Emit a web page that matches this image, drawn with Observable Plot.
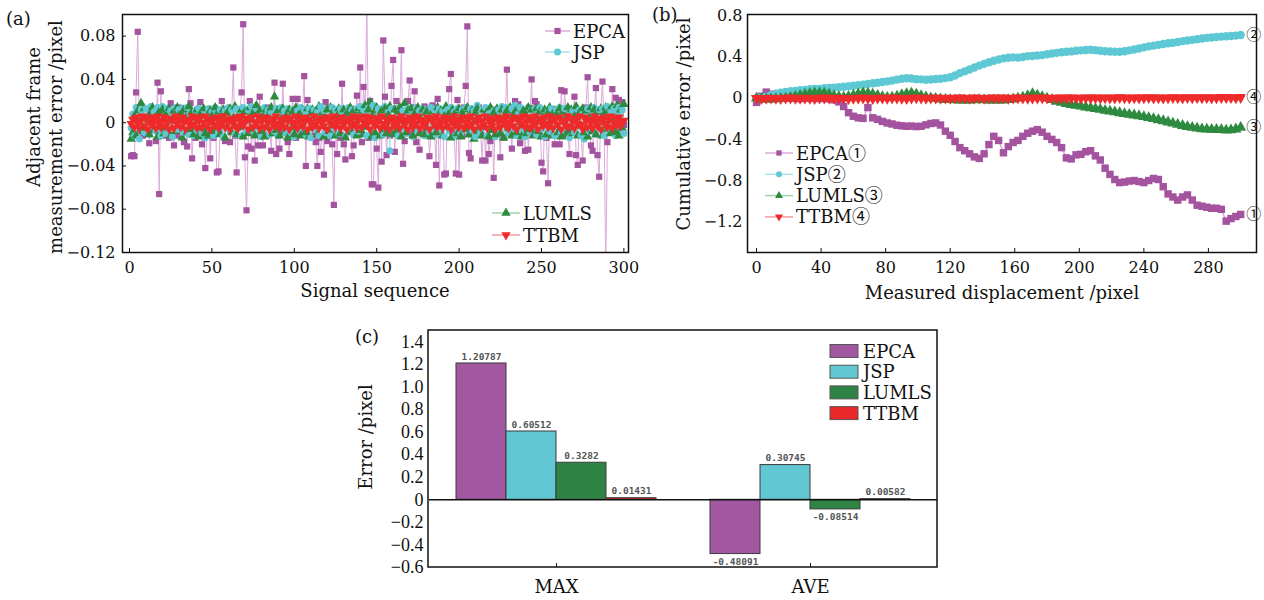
<!DOCTYPE html>
<html>
<head>
<meta charset="utf-8">
<script src="https://cdn.jsdelivr.net/npm/d3@7"></script>
<script src="https://cdn.jsdelivr.net/npm/@observablehq/plot@0.6"></script>
<style>
  body { margin: 0; background: #fff; }
  #root { position: relative; width: 1264px; height: 600px; overflow: hidden; background: #fff; }
  #root svg { position: absolute; }
  .tag { position: absolute; font: 18px "DejaVu Serif", serif; color: #111; line-height: 22px; }
</style>
</head>
<body>
<div id="root">
  <div class="tag" style="left:6px;top:8px">(a)</div>
  <div class="tag" style="left:652px;top:4px">(b)</div>
  <div class="tag" style="left:355px;top:326px">(c)</div>
</div>
<script>
// ---- series definitions ----
const methods = ["EPCA", "JSP", "LUMLS", "TTBM"];
const markColors = ["#a4539f", "#5ec9d5", "#2d8a3f", "#ee2a2b"];
const lineColors = ["#dcaad9", "#a9e3ea", "#9fd2a8", "#f49b9b"];
const barColors = ["#a257a1", "#61c8d3", "#2f8445", "#e8282b"];
const symbols = ["square", "circle", "triangle", "triangle"];
const rotations = [0, 0, 0, 180];
const circled = ["\u2460", "\u2461", "\u2462", "\u2463"];

// (a) adjacent-frame measurement error for frames 1..300, in units of 0.001 pixel
const frameEPCA = [
  -31,-30,-31,28,84,-8,5,-12,10,-4, 8,-19,4,-6,12,-17,37,-66,29,-8,
  10,-12,6,-14,18,-5,-21,8,-12,14, -6,3,-18,10,-22,31,18,-33,6,-14,
  12,-8,19,-20,4,-42,-10,8,-33,2, -14,10,-46,-45,-8,20,-3,-17,12,-5,
  -18,8,51,-12,-46,-5,12,28,91,-32, -81,-22,20,-24,6,-35,10,-21,24,-10,
  -21,5,-12,14,-3,-26,8,37,-29,10, -24,-8,36,-1,12,-18,-29,6,22,-9,
  -14,22,3,-9,12,43,-40,21,-6,10, -12,5,-18,-40,-14,-27,8,-48,19,-17,
  6,-10,-20,-76,4,-29,10,-14,36,-20, -34,5,-8,12,-31,-21,8,25,-10,51,
  -18,33,10,112,-14,20,-57,-57,8,-24, -60,12,-36,76,24,-30,5,-12,34,58,
  -27,20,-8,10,67,-38,-17,6,20,39, -10,14,29,-18,3,-25,10,-6,15,-12,
  8,-31,-11,16,-4,-39,22,-58,6,10, -48,-47,12,31,45,-8,-10,-47,21,-48,
  5,-12,14,34,89,-28,-33,4,9,-11, -6,14,-8,-35,10,-35,3,-29,-17,8,
  -51,12,-6,4,-32,10,-14,6,49,-8, 12,-24,4,20,-10,17,-19,8,-12,-26,
  10,-25,4,40,-6,20,17,-10,6,-37, -45,8,-14,-56,12,-6,9,-20,4,12,
  -20,30,-8,29,6,-12,-29,10,-4,24, -30,-39,8,-12,-35,6,14,42,-8,-21,
  -26,10,32,-30,-50,12,38,-4,-135,-18, 10,-6,31,12,23,-10,21,8,19,-2
];
const frameJSP = [
  -5,8,-12,14,3,-15,12,6,-9,13,2,-11,15,-4,10,-8,14,1,-12,15,
  4,-10,13,-3,11,-13,7,14,-6,12,-2,13,-9,5,14,-11,9,3,-12,11,
  -7,13,2,-10,12,-14,6,13,-5,10,-12,14,0,-9,12,4,-13,11,-3,14,
  -8,12,5,-11,13,-2,10,-12,14,3,-9,12,-6,15,1,-10,13,-4,11,-13,
  7,14,-5,12,-11,9,2,-8,13,-12,6,14,-3,11,-10,13,0,-9,12,-13,
  5,11,-7,14,-2,12,-11,8,13,-14,4,12,-6,10,-12,15,-1,11,-9,13,
  3,-12,14,-5,12,7,-10,13,-3,11,-13,9,14,-6,12,-11,2,13,-8,15,
  -4,12,10,-12,14,3,-9,16,-14,6,13,-2,12,-11,15,-6,10,-26,13,-9,
  12,4,-12,14,-5,11,8,-10,13,-3,12,-13,6,14,-8,11,-1,13,-12,10,
  5,-9,14,-4,12,-11,9,13,-6,11,-13,3,12,-8,14,-2,10,-12,13,6,
  -10,12,-4,14,2,-11,13,-7,11,-13,16,5,-9,12,-3,14,-12,8,13,-6,
  11,-13,4,12,-9,15,-2,12,14,-10,6,13,-5,16,-12,9,14,-7,11,-13,
  3,14,-9,12,-2,13,-11,8,14,-6,12,-13,5,11,-8,13,0,-12,12,-4,
  14,-10,7,13,-5,12,-14,3,11,-9,14,-2,12,-12,10,-15,6,13,-8,12,
  -3,14,-11,9,12,-6,13,-12,4,15,-9,11,-2,13,-12,7,14,-5,12,-10
];
const frameLUMLS = [
  -15,-9,6,-12,11,4,18,-8,13,-5,2,-11,9,14,-7,3,-13,10,-4,12,
  -10,7,-3,13,-12,5,11,-8,14,-2,9,-14,12,4,-9,15,-6,10,-11,3,
  12,-13,8,-5,13,-10,2,-12,11,6,-8,14,-3,10,-11,5,12,-14,9,-2,
  13,-9,4,15,-11,7,-4,12,-13,10,2,-10,14,-6,9,-12,16,-3,11,-8,
  5,-13,12,-1,9,14,-10,24,-7,11,-12,3,13,-9,6,-14,12,-4,10,-11,
  14,-6,8,-12,11,2,-9,13,-13,7,12,-5,10,-11,15,-3,9,-13,4,12,
  -8,14,-2,11,-12,6,13,-10,3,12,-14,9,-5,14,-9,11,1,-12,13,-7,
  10,-11,16,-4,12,19,-13,8,-9,14,4,-12,11,-6,13,-10,7,15,-3,-11,
  12,-8,10,14,-13,5,18,-9,11,-2,13,-12,8,-6,14,-10,3,12,-11,9,
  -5,13,-13,10,2,-9,14,-7,11,-12,6,15,-4,9,-14,12,-1,10,-10,13,
  -13,8,12,-6,14,-11,4,11,-15,9,13,-8,2,-12,12,-4,10,-13,14,-7,
  9,-11,13,3,-10,12,-14,7,11,-5,14,-12,6,10,-9,13,-2,-13,11,8,
  -10,14,-6,12,-12,5,13,-8,10,-13,3,12,-11,9,14,-4,-12,11,7,-9,
  13,-13,10,2,-11,14,-7,12,-10,6,15,-12,9,-3,13,-9,11,-13,4,14,
  -8,12,-11,10,-2,13,-12,8,14,-6,11,-10,15,3,-9,16,-12,12,-5,17
];
const frameTTBM = [
  -1,3,-4,5,0,-5,2,6,-3,4,-6,1,5,-2,3,-5,6,0,-4,2,
  5,-3,1,-6,4,2,-5,6,-1,3,-4,5,0,-6,3,1,-3,6,-2,4,
  -5,2,5,-4,0,6,-3,3,-6,1,4,-2,5,-5,2,-1,6,-4,3,0,
  -6,4,1,-3,5,-5,2,6,-2,0,4,-6,3,5,-4,1,-1,6,-5,2,
  3,-4,5,0,-6,4,2,-3,6,-1,-5,3,1,-4,5,2,-6,4,0,-2,
  6,-5,2,4,-3,1,5,-6,3,0,-4,6,-2,2,-5,4,1,-3,5,-6,
  2,4,-1,6,-4,0,3,-5,5,-2,1,-6,4,2,-3,6,-1,-5,3,5,
  -4,1,6,-2,3,-6,5,0,-3,4,2,-5,6,-1,-4,3,1,-6,5,2,
  -3,4,0,-5,6,2,-2,3,-6,5,1,-4,4,-1,6,-5,2,3,-3,0,
  5,-6,4,1,-2,6,-4,3,0,-5,5,2,-3,4,-6,1,6,-2,3,-4,
  2,5,-5,0,4,-3,6,-1,-6,3,1,5,-4,2,-2,6,-5,4,0,-3,
  3,-6,5,1,-4,4,2,-2,6,-5,0,3,-3,5,-6,2,4,-1,6,-4,
  1,5,-5,3,-2,6,0,-6,4,2,-3,5,-1,-4,6,1,-5,3,4,-2,
  5,-6,2,0,-3,6,-4,4,1,-5,3,-1,6,-2,-6,5,2,-4,3,0,
  -5,6,1,-3,4,-6,2,5,-1,-4,3,6,-5,0,4,-2,5,-3,1,2
];

// (b) cumulative error, sampled every 3 pixels of displacement (0..300), in units of 0.001 pixel
const cumStep = 3;
const cumEPCA = [
  -40,20,60,40,25,15,8,2,0,-3, 0,2,0,-2,0,-5,-15,-35,-80,-140,
  -175,-190,-195,-90,-190,-205,-225,-240,-250,-262, -268,-272,-270,-275,-272,-258,-245,-240,-260,-320,
  -360,-420,-480,-510,-540,-570,-585,-540,-450,-370, -410,-530,-470,-430,-410,-370,-340,-320,-305,-330,
  -370,-400,-430,-480,-580,-590,-550,-545,-520,-510, -560,-600,-680,-740,-790,-820,-815,-805,-800,-810,
  -820,-800,-780,-790,-860,-930,-960,-990,-960,-940, -990,-1040,-1050,-1060,-1070,-1070,-1080,-1195,-1170,-1150,
  -1130
];
const cumJSP = [
  0,5,15,30,45,55,62,68,72,78, 82,88,90,92,98,100,104,108,112,118,
  122,128,132,140,146,152,158,165,172,182, 190,195,192,186,184,180,183,188,190,196,
  205,222,245,262,280,300,318,335,350,365, 378,388,395,398,396,402,410,412,416,420,
  428,436,442,448,452,456,462,466,470,472, 468,462,458,455,452,452,458,466,475,485,
  495,505,512,520,528,535,540,548,556,562, 568,575,582,588,592,596,600,603,606,610,
  615
];
const cumLUMLS = [
  0,-8,-10,-8,-6,-3,0,8,18,28, 38,45,50,52,48,38,25,15,10,18,
  30,42,50,48,40,28,15,8,10,20, 35,45,48,40,25,12,3,-3,-8,-12,
  -15,-17,-18,-20,-18,-16,-15,-17,-19,-20, -20,-18,-15,-8,0,10,25,45,30,15,
  0,-15,-30,-42,-52,-62,-70,-78,-86,-95, -102,-110,-118,-126,-134,-142,-150,-157,-164,-171,
  -180,-190,-200,-210,-220,-232,-243,-255,-266,-276, -285,-292,-298,-302,-304,-305,-307,-310,-308,-300,
  -285
];
const cumTTBM = [
  0,-2,1,3,0,-1,2,4,1,0, 3,1,-1,2,4,2,0,3,1,-2,
  0,2,4,1,-1,3,2,0,4,2, 1,-1,3,5,2,0,2,4,1,3,
  0,2,5,3,1,4,2,0,3,5, 2,4,1,3,6,2,0,4,3,5,
  3,1,5,2,4,6,3,2,5,4, 6,3,5,2,4,7,5,3,6,4,
  5,7,4,6,3,5,8,6,4,7, 5,8,6,7,4,6,9,7,8,6,
  9
];

// (c) error statistics
const statGroups = ["MAX", "AVE"];
const statMAX = [1.20787, 0.60512, 0.3282, 0.01431];
const statAVE = [-0.48091, 0.30745, -0.08514, 0.00582];

// tick values
const ticksAX = [0, 50, 100, 150, 200, 250, 300];
const ticksAY = [-0.12, -0.08, -0.04, 0, 0.04, 0.08];
const ticksBX = [0, 40, 80, 120, 160, 200, 240, 280];
const ticksBY = [-1.2, -0.8, -0.4, 0, 0.4, 0.8];
const ticksCY = [-0.6, -0.4, -0.2, 0, 0.2, 0.4, 0.6, 0.8, 1.0, 1.2, 1.4];

// ---- helpers ----
const serif = "DejaVu Serif";
const serifCJK = "'DejaVu Serif', 'Noto Sans CJK SC', serif";
const fmtTick = digits => d => d === 0 ? "0" : (d < 0 ? "\u2212" : "") + Math.abs(d).toFixed(digits);
const symbolTypes = {square: d3.symbolSquare, circle: d3.symbolCircle, triangle: d3.symbolTriangle};
const root = document.getElementById("root");

function place(svg, left, top) {
  svg.style.left = left + "px";
  svg.style.top = top + "px";
  root.appendChild(svg);
  return d3.select(svg);
}
function addTitle(sel, x, y, str, vertical) {
  sel.append("text")
    .attr("transform", `translate(${x},${y})` + (vertical ? " rotate(-90)" : ""))
    .attr("text-anchor", "middle").attr("dominant-baseline", "central")
    .attr("font-family", serif).attr("font-size", 18).attr("fill", "#111")
    .text(str);
}
function addLegendLine(sel, k, xa, xb, y, label, r) {
  sel.append("line").attr("x1", xa).attr("x2", xb).attr("y1", y).attr("y2", y)
    .attr("stroke", lineColors[k]).attr("stroke-width", 1.5);
  sel.append("path")
    .attr("d", d3.symbol(symbolTypes[symbols[k]], r * r * Math.PI)())
    .attr("transform", `translate(${(xa + xb) / 2},${y}) rotate(${rotations[k]})`)
    .attr("fill", markColors[k]);
  sel.append("text").attr("x", xb + 3).attr("y", y)
    .attr("text-anchor", "start").attr("dominant-baseline", "central")
    .attr("font-family", serifCJK).attr("font-size", 18).attr("fill", "#111")
    .text(label);
}
const plotStyle = {fontFamily: serif, fontSize: "16px", color: "#111", background: "transparent", overflow: "visible"};

// ---- (a) adjacent-frame measurement error ----
const frameSeries = [frameEPCA, frameJSP, frameLUMLS, frameTTBM];
const frameRows = methods.map((m, k) => frameSeries[k].map((v, i) => ({method: m, frame: i + 1, err: v / 1000})));
// JSP circles and LUMLS triangles are drawn frame by frame so the two sets interleave
const midRows = d3.sort([...frameRows[1], ...frameRows[2]], d => d.frame);
const svgA = Plot.plot({
  width: 640, height: 300,
  marginLeft: 122, marginRight: 12, marginTop: 14, marginBottom: 48,
  style: plotStyle,
  x: {domain: [-4.25, 302.8]},
  y: {domain: [-0.12, 0.1]},
  color: {domain: methods, range: markColors},
  symbol: {domain: methods, range: symbols},
  marks: [
    Plot.line(frameRows[0], {x: "frame", y: "err", stroke: lineColors[0], strokeWidth: 1, clip: true}),
    Plot.dot(frameRows[0], {x: "frame", y: "err", symbol: "method", r: 3.5, fill: "method", clip: true}),
    Plot.line(frameRows[1], {x: "frame", y: "err", stroke: lineColors[1], strokeWidth: 1, clip: true}),
    Plot.line(frameRows[2], {x: "frame", y: "err", stroke: lineColors[2], strokeWidth: 1, clip: true}),
    Plot.dot(midRows, {x: "frame", y: "err", symbol: "method", r: 3.5, fill: "method", clip: true}),
    Plot.line(frameRows[3], {x: "frame", y: "err", stroke: lineColors[3], strokeWidth: 1, clip: true}),
    Plot.dot(frameRows[3], {x: "frame", y: "err", symbol: "method", r: 3.5, fill: "method", rotate: 180, clip: true}),
    Plot.axisX({ticks: ticksAX, tickSize: -4, tickPadding: 13, label: null, tickFormat: d => String(d), fontSize: 16}),
    Plot.axisY({ticks: ticksAY, tickSize: -4, tickPadding: 11, label: null, tickFormat: fmtTick(2), fontSize: 16}),
    Plot.frame({stroke: "#111", strokeWidth: 1.5})
  ]
});
const selA = place(svgA, 0, 0);
addTitle(selA, 33, 117, "Adjacent frame", true);
addTitle(selA, 55, 137, "measurement error /pixel", true);
addTitle(selA, 375, 290, "Signal sequence");
addLegendLine(selA, 0, 545, 570, 31, "EPCA", 3.5);
addLegendLine(selA, 1, 545, 570, 52, "JSP", 3.5);
addLegendLine(selA, 2, 492, 520, 213, "LUMLS", 3.5);
addLegendLine(selA, 3, 492, 520, 235, "TTBM", 3.5);

// ---- (b) cumulative error ----
const cumSeries = [cumEPCA, cumJSP, cumLUMLS, cumTTBM];
const cumRows = methods.map((m, k) => cumSeries[k].map((v, i) => ({method: m, disp: i * cumStep, err: v / 1000})));
const endRows = methods.map((m, k) => ({...cumRows[k][cumRows[k].length - 1], tag: circled[k]}));
const marksB = [];
methods.forEach((m, k) => {
  marksB.push(Plot.line(cumRows[k], {x: "disp", y: "err", stroke: lineColors[k], strokeWidth: 1.5}));
  marksB.push(Plot.dot(cumRows[k], {x: "disp", y: "err", symbol: symbols[k], r: 4.2, fill: markColors[k], rotate: rotations[k]}));
});
const svgB = Plot.plot({
  width: 624, height: 300,
  marginLeft: 107, marginRight: 8, marginTop: 14, marginBottom: 48,
  style: plotStyle,
  x: {domain: [-5.6, 309.8]},
  y: {domain: [-1.5, 0.815]},
  marks: [
    ...marksB,
    Plot.text(endRows, {x: "disp", y: "err", text: "tag", dx: 13, fontSize: 15, fontFamily: serifCJK,
      fill: "#111", stroke: "white", strokeWidth: 3}),
    Plot.axisX({ticks: ticksBX, tickSize: -4, tickPadding: 13, label: null, tickFormat: d => String(d), fontSize: 16}),
    Plot.axisY({ticks: ticksBY, tickSize: 0, tickPadding: 5, label: null, tickFormat: fmtTick(1), fontSize: 16}),
    Plot.frame({stroke: "#111", strokeWidth: 1.5})
  ]
});
const selB = place(svgB, 640, 0);
addTitle(selB, 43, 124, "Cumulative error /pixel", true);
addTitle(selB, 362, 292, "Measured displacement /pixel");
methods.forEach((m, k) => addLegendLine(selB, k, 125, 153, 153 + k * 21.3, m + circled[k], 3.0));

// ---- (c) maximum and average error ----
const statRows = statGroups.flatMap((g, gi) => methods.map((m, k) => ({group: g, method: m, value: (gi === 0 ? statMAX : statAVE)[k]})));
const labelOpts = {fx: "group", x: "method", y: "value", text: d => String(d.value),
  fontFamily: "'DejaVu Sans Mono', monospace", fontSize: 9.5, fontWeight: "bold", fill: "#555"};
const svgC = Plot.plot({
  width: 620, height: 300,
  marginLeft: 88, marginRight: 23, marginTop: 30, marginBottom: 33,
  style: plotStyle,
  fx: {domain: statGroups, padding: 0, label: null},
  x: {domain: methods, paddingInner: 0, paddingOuter: 0.5, axis: null},
  y: {domain: [-0.6, 1.5]},
  color: {domain: methods, range: barColors},
  marks: [
    Plot.barY(statRows, {fx: "group", x: "method", y: "value", fill: "method", stroke: "#3a3a3a", strokeWidth: 1}),
    Plot.ruleY([0], {stroke: "#111", strokeWidth: 1.5}),
    Plot.text(statRows.filter(d => d.value >= 0), {...labelOpts, dy: -7}),
    Plot.text(statRows.filter(d => d.value < 0), {...labelOpts, dy: 8}),
    Plot.axisY({ticks: ticksCY, tickSize: 0, tickPadding: 6, label: null, tickFormat: fmtTick(1),
      fontFamily: "'Liberation Serif', serif", fontSize: 18}),
    Plot.axisFx({anchor: "bottom", tickSize: -4, tickPadding: 17, label: null, fontSize: 18})
  ]
});
const selC = place(svgC, 340, 300);
selC.append("rect").attr("x", 88).attr("y", 30).attr("width", 509).attr("height", 237)
  .attr("fill", "none").attr("stroke", "#111").attr("stroke-width", 1.5);
addTitle(selC, 25, 137, "Error /pixel", true);
methods.forEach((m, k) => {
  const cy = 51 + k * 20.7;
  selC.append("rect").attr("x", 490).attr("y", cy - 6.5).attr("width", 28).attr("height", 13)
    .attr("fill", barColors[k]).attr("stroke", "#555").attr("stroke-width", 1);
  selC.append("text").attr("x", 523).attr("y", cy)
    .attr("text-anchor", "start").attr("dominant-baseline", "central")
    .attr("font-family", serif).attr("font-size", 18).attr("fill", "#111").text(m);
});
</script>
</body>
</html>
